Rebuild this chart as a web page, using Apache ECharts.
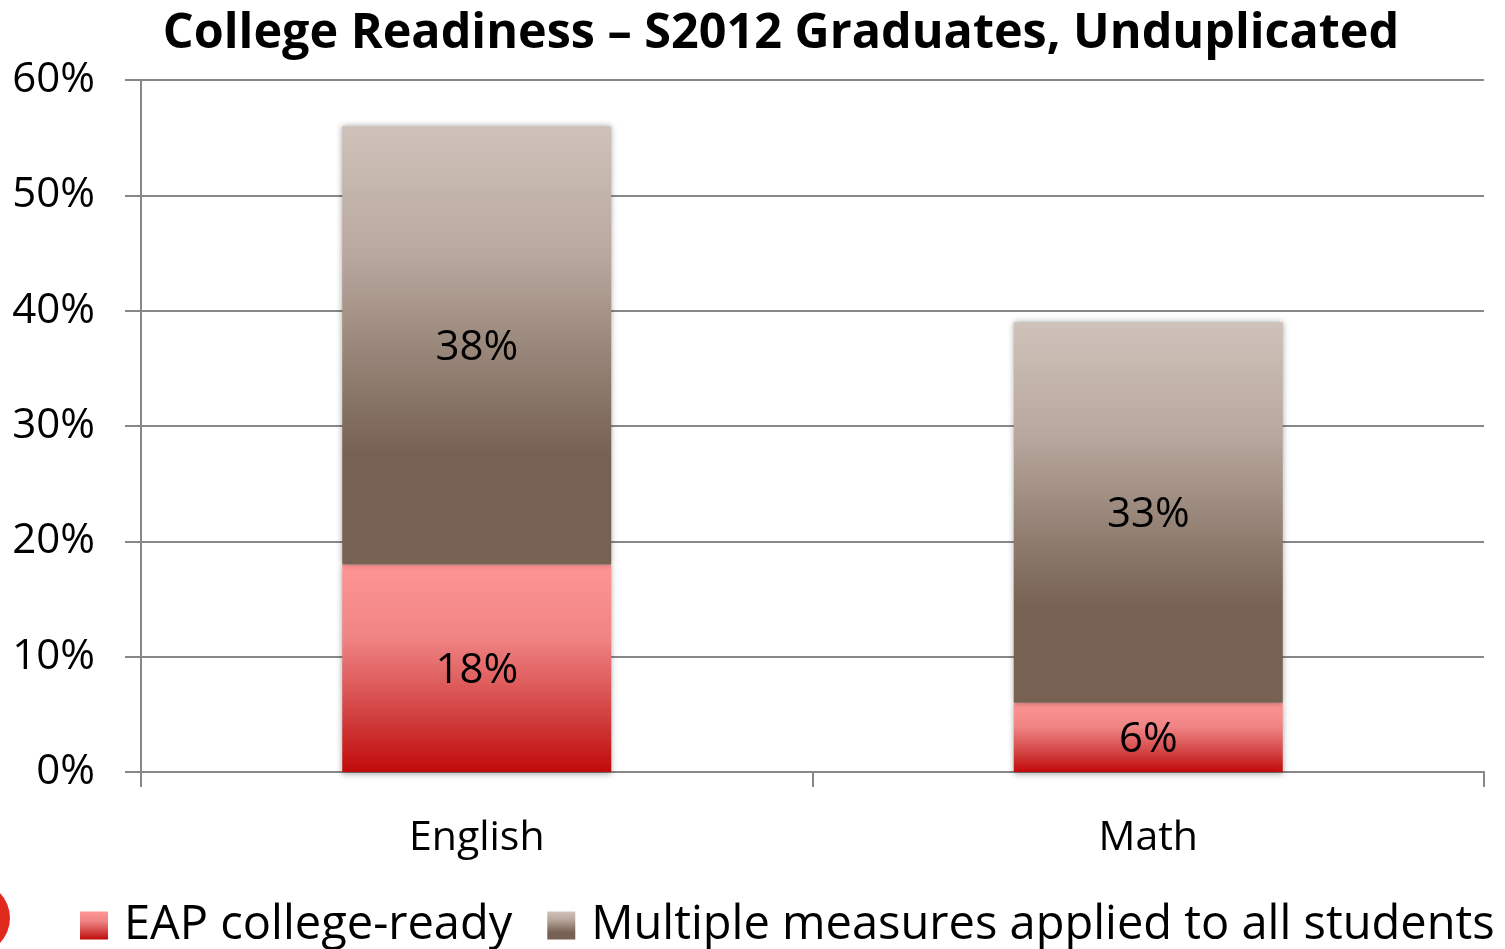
<!DOCTYPE html>
<html><head><meta charset="utf-8">
<script src="https://cdn.jsdelivr.net/npm/echarts@6/dist/echarts.min.js"></script>
<style>html,body{margin:0;padding:0;background:#fff}#c{width:1505px;height:949px}</style>
</head><body><div id="c"></div>
<script>
const titleText = 'College Readiness \u2013 S2012 Graduates, Unduplicated';
const categories = ['English', 'Math'];
const eapValues = [18, 6];
const multipleValues = [38, 33];
const seriesNames = ['EAP college-ready', 'Multiple measures applied to all students'];
const yTicks = {min: 0, max: 60, interval: 10};

const FONT = 'Open Sans';
const chart = echarts.init(document.getElementById('c'));
const redGrad = new echarts.graphic.LinearGradient(0, 0, 0, 1, [
  {offset: 0, color: '#ff9595'}, {offset: 0.35, color: '#f08484'}, {offset: 0.7, color: '#d44646'}, {offset: 1, color: '#c10a0a'}]);
const brownGrad = new echarts.graphic.LinearGradient(0, 0, 0, 1, [
  {offset: 0, color: '#cfc2ba'}, {offset: 0.3, color: '#b8a79d'}, {offset: 0.75, color: '#766152'}, {offset: 1, color: '#766152'}]);
const labelStyle = {show: true, position: 'inside', formatter: '{c}%', color: '#000', fontFamily: FONT, fontSize: 42, offset: [0, 3]};
chart.setOption({
  animation: false,
  title: {text: titleText, left: 776, top: 5, textAlign: 'center',
    textStyle: {fontFamily: FONT, fontWeight: 'bold', fontSize: 48.5, color: '#000'}},
  grid: {left: 141, right: 21, top: 80, bottom: 177},
  legend: {top: 902, left: 80, padding: 0, itemWidth: 28, itemHeight: 28, itemGap: 35,
    icon: 'rect',
    textStyle: {fontFamily: FONT, fontSize: 47, color: '#000', padding: [3, 0, 0, 11]},
    data: seriesNames},
  xAxis: {type: 'category', data: categories,
    axisLine: {lineStyle: {color: '#878787', width: 2}},
    axisTick: {show: true, length: 15, lineStyle: {color: '#878787', width: 2}},
    axisLabel: {fontFamily: FONT, fontSize: 41, color: '#000', margin: 46}},
  yAxis: {type: 'value', min: yTicks.min, max: yTicks.max, interval: yTicks.interval,
    axisLine: {show: true, lineStyle: {color: '#878787', width: 2}},
    axisTick: {show: true, length: 16, lineStyle: {color: '#878787', width: 2}},
    splitLine: {lineStyle: {color: '#878787', width: 2}},
    axisLabel: {formatter: '{value}%', fontFamily: FONT, fontSize: 42, color: '#000', margin: 46}},
  series: [
    {name: seriesNames[0], type: 'bar', stack: 's', data: eapValues, barWidth: 269,
     itemStyle: {color: redGrad, shadowBlur: 6, shadowColor: 'rgba(0,0,0,0.35)', shadowOffsetY: 2}, label: labelStyle},
    {name: seriesNames[1], type: 'bar', stack: 's', data: multipleValues, barWidth: 269,
     itemStyle: {color: brownGrad, shadowBlur: 6, shadowColor: 'rgba(0,0,0,0.35)', shadowOffsetY: 0}, label: labelStyle}
  ],
  graphic: [{type: 'circle', shape: {cx: -26, cy: 918, r: 36}, style: {fill: '#e02a1e'}}]
});
</script></body></html>
